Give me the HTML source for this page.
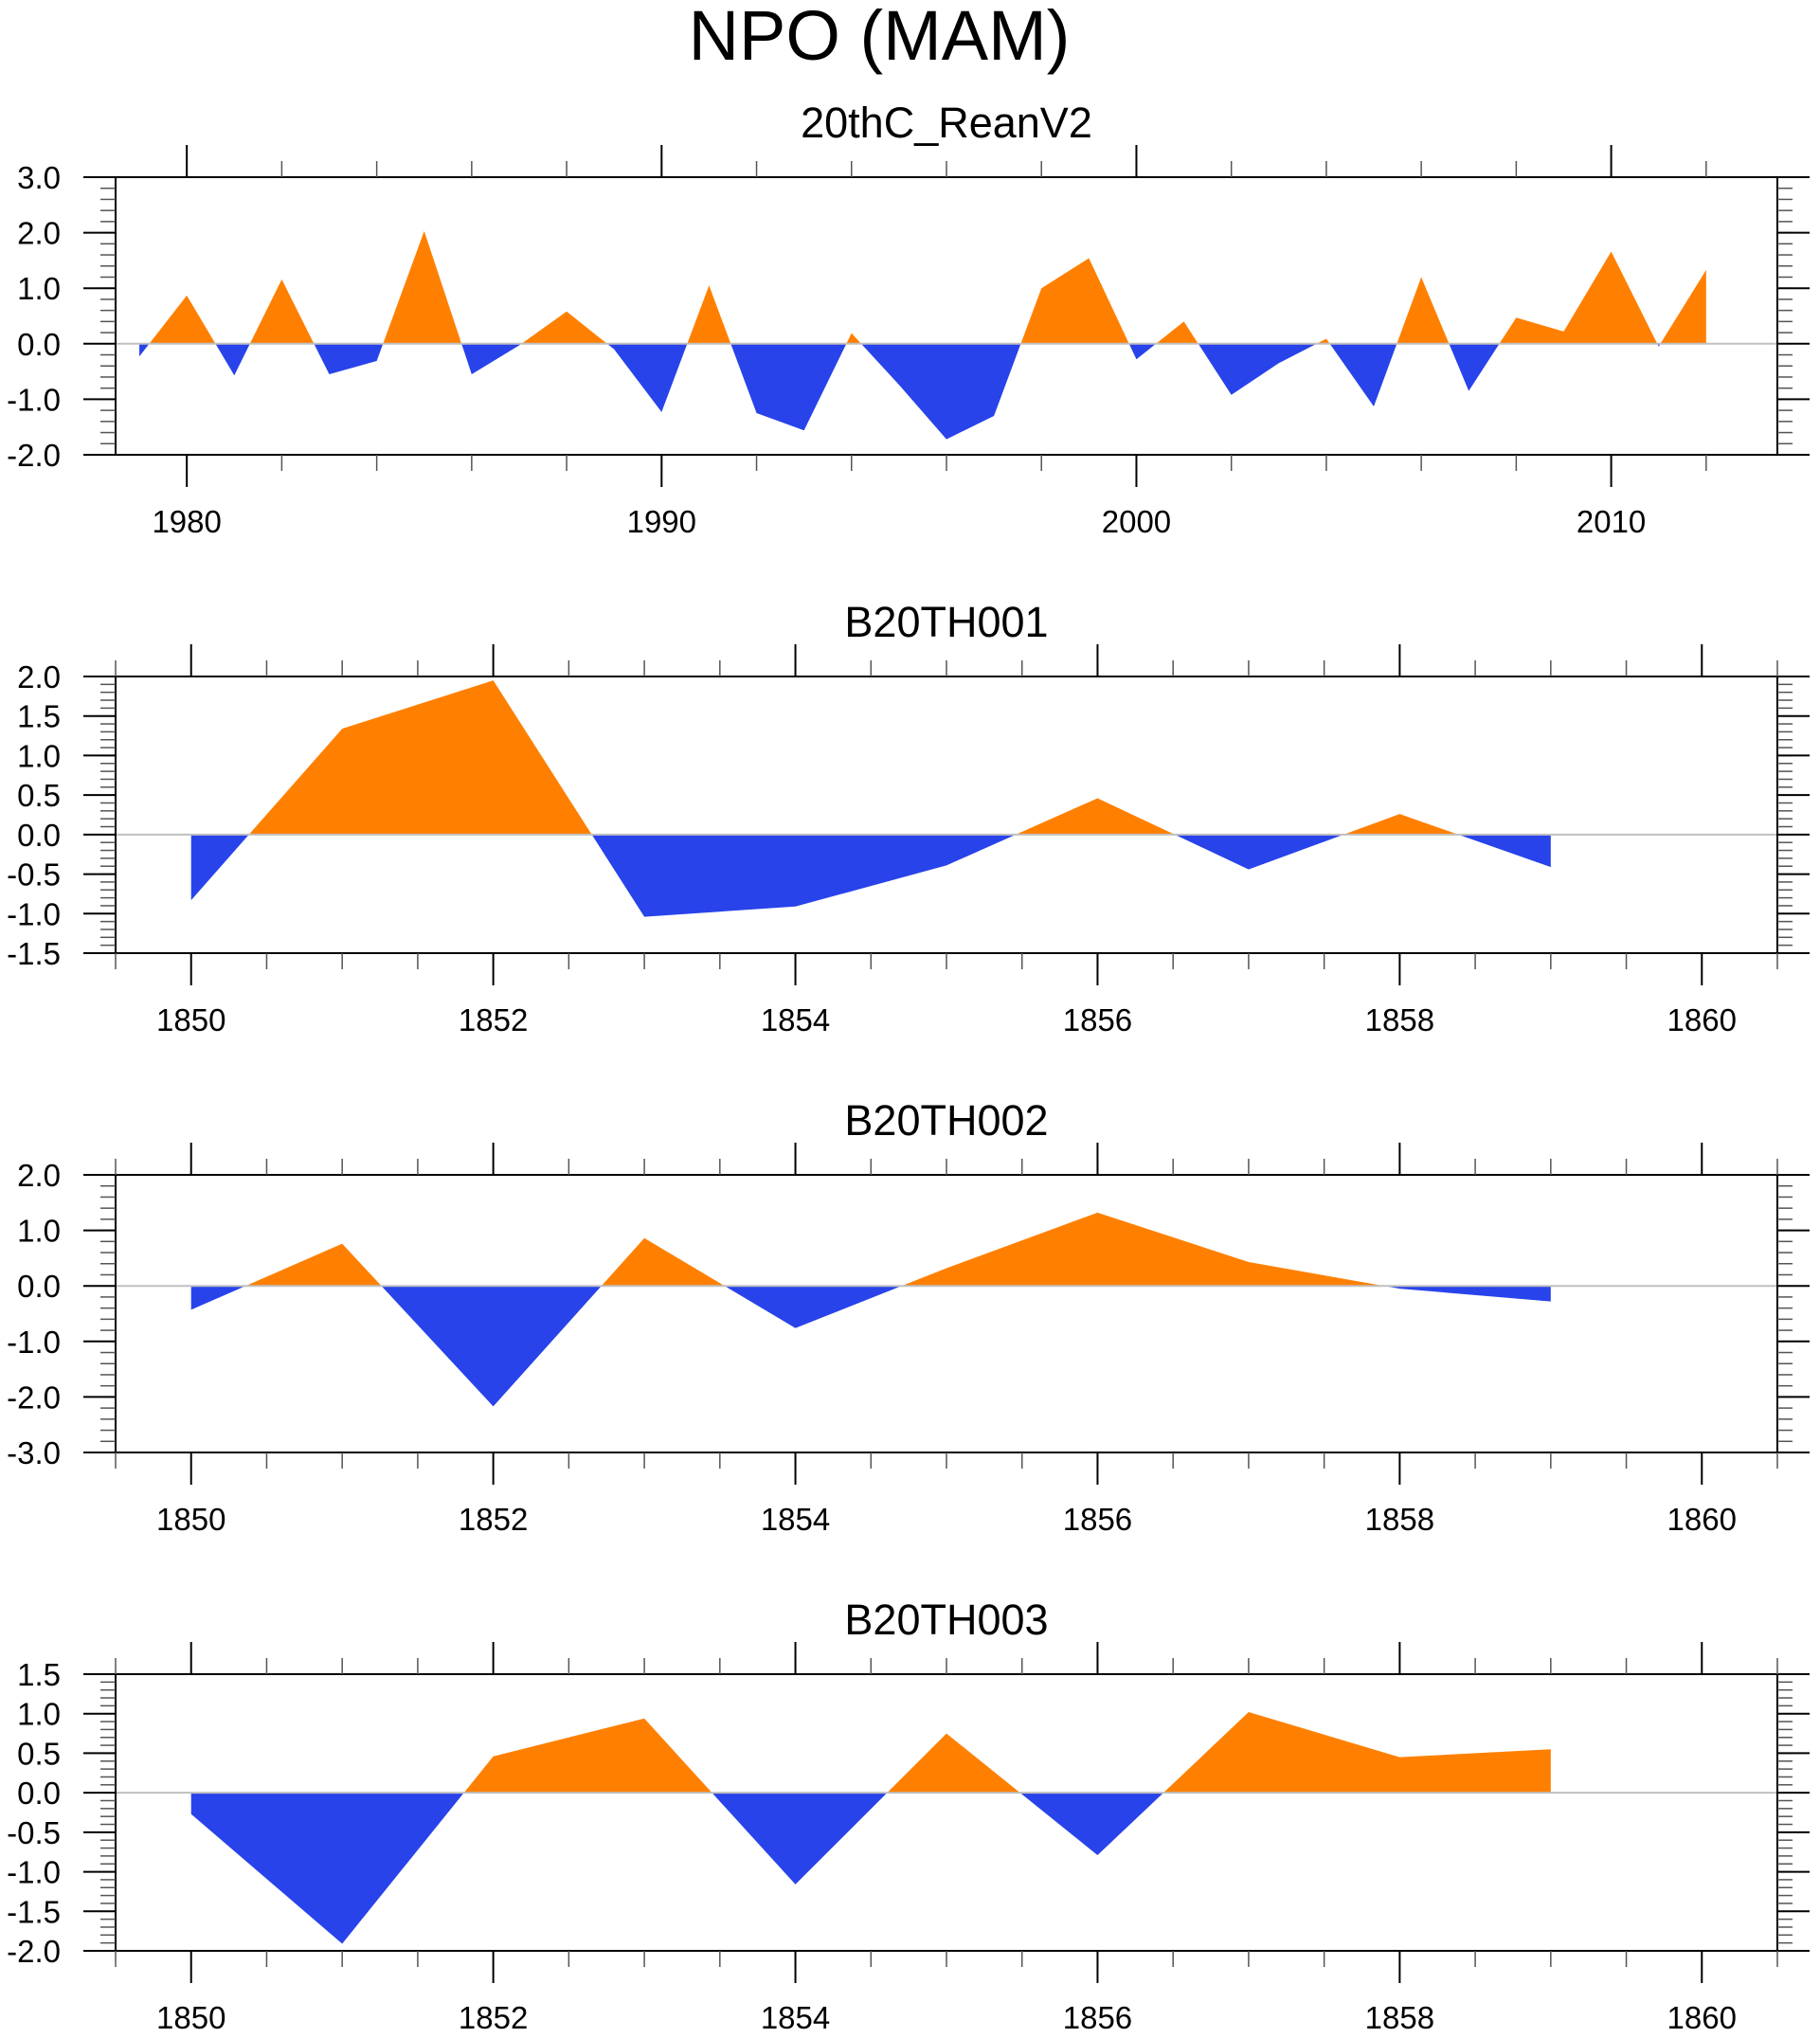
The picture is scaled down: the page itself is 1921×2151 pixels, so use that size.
<!DOCTYPE html>
<html>
<head>
<meta charset="utf-8">
<style>
html,body{margin:0;padding:0;background:#fff;}
svg{display:block;}
text{font-family:"Liberation Sans",Arial,sans-serif;fill:#000;}
</style>
</head>
<body>
<svg id="chart" width="1921" height="2151" viewBox="0 0 1921 2151" xmlns="http://www.w3.org/2000/svg">
<text x="928" y="63" font-size="74" text-anchor="middle">NPO (MAM)</text>
</svg>
<script>
// ---- data ----
const years1 = [1979,1980,1981,1982,1983,1984,1985,1986,1987,1988,1989,1990,1991,1992,1993,1994,1995,1996,1997,1998,1999,2000,2001,2002,2003,2004,2005,2006,2007,2008,2009,2010,2011,2012];
const reanValues = [-0.23,0.87,-0.57,1.16,-0.55,-0.31,2.03,-0.55,-0.03,0.58,-0.1,-1.23,1.05,-1.25,-1.56,0.19,-0.74,-1.72,-1.3,1.0,1.54,-0.28,0.4,-0.92,-0.35,0.09,-1.13,1.2,-0.85,0.47,0.22,1.66,-0.05,1.33];
const years2 = [1850,1851,1852,1853,1854,1855,1856,1857,1858,1859];
const b001Values = [-0.83,1.34,1.95,-1.04,-0.91,-0.39,0.46,-0.44,0.26,-0.41];
const b002Values = [-0.43,0.76,-2.17,0.86,-0.76,0.32,1.32,0.43,-0.05,-0.28];
const b003Values = [-0.27,-1.91,0.46,0.94,-1.16,0.75,-0.79,1.02,0.45,0.55];
const reanYTicks = [3.0,2.0,1.0,0.0,-1.0,-2.0];
const b001YTicks = [2.0,1.5,1.0,0.5,0.0,-0.5,-1.0,-1.5];
const b002YTicks = [2.0,1.0,0.0,-1.0,-2.0,-3.0];
const b003YTicks = [1.5,1.0,0.5,0.0,-0.5,-1.0,-1.5,-2.0];
const reanXTicks = [1980,1990,2000,2010];
const b20XTicks = [1850,1852,1854,1856,1858,1860];

const NS = "http://www.w3.org/2000/svg";
const svg = document.getElementById('chart');
function mk(tag, attrs, parent){
  const e = document.createElementNS(NS, tag);
  for (const k in attrs) e.setAttribute(k, attrs[k]);
  (parent||svg).appendChild(e);
  return e;
}

const panels = [
  {name:'20thC_ReanV2', slug:'reanv2', top:187, bottom:480, ymin:-2, ymax:3, yminor:0.2, ydec:1,
   xs:years1, vals:reanValues, xmin:1978.5, xmax:2013.5, xticks:reanXTicks, xminor:2, yticks:reanYTicks},
  {name:'B20TH001', slug:'b20th001', top:714, bottom:1006, ymin:-1.5, ymax:2, yminor:0.1, ydec:1,
   xs:years2, vals:b001Values, xmin:1849.5, xmax:1860.5, xticks:b20XTicks, xminor:0.5, yticks:b001YTicks},
  {name:'B20TH002', slug:'b20th002', top:1240, bottom:1533, ymin:-3, ymax:2, yminor:0.2, ydec:1,
   xs:years2, vals:b002Values, xmin:1849.5, xmax:1860.5, xticks:b20XTicks, xminor:0.5, yticks:b002YTicks},
  {name:'B20TH003', slug:'b20th003', top:1767, bottom:2059, ymin:-2, ymax:1.5, yminor:0.1, ydec:1,
   xs:years2, vals:b003Values, xmin:1849.5, xmax:1860.5, xticks:b20XTicks, xminor:0.5, yticks:b003YTicks}
];

const L = 122, R = 1876;
panels.forEach((p, pi) => {
  const g = mk('g', {});
  
  
  const xS = v => L + (v - p.xmin) / (p.xmax - p.xmin) * (R - L);
  const yS = v => p.bottom - (v - p.ymin) / (p.ymax - p.ymin) * (p.bottom - p.top);

  const t = mk('text', {x:(L+R)/2, y:p.top-42, 'font-size':45, 'text-anchor':'middle'}, g);
  
  
  t.textContent = p.name;

  const defs = mk('defs', {}, g);
  const y0 = yS(0);
  const cpA = mk('clipPath', {id:'ca'+pi}, defs);
  mk('rect', {x:L, y:p.top, width:R-L, height:y0-p.top}, cpA);
  const cpB = mk('clipPath', {id:'cb'+pi}, defs);
  mk('rect', {x:L, y:y0, width:R-L, height:p.bottom-y0}, cpB);

  let d = 'M' + xS(p.xs[0]) + ',' + y0;
  p.xs.forEach((x, i) => { d += ' L' + xS(x) + ',' + yS(p.vals[i]); });
  d += ' L' + xS(p.xs[p.xs.length-1]) + ',' + y0 + ' Z';
  const pos = mk('path', {d:d, fill:'#ff8000', 'clip-path':'url(#ca'+pi+')'}, g);
  
  
  const neg = mk('path', {d:d, fill:'#2843ea', 'clip-path':'url(#cb'+pi+')'}, g);
  
  

  const zl = mk('line', {x1:L, x2:R, y1:y0, y2:y0, stroke:'#c0c0c0', 'stroke-width':2}, g);
  
  

  const fr = mk('rect', {x:L, y:p.top, width:R-L, height:p.bottom-p.top, fill:'none', stroke:'#000', 'stroke-width':2}, g);
  
  

  const nMinor = Math.round((p.ymax - p.ymin) / p.yminor);
  for (let i = 0; i <= nMinor; i++) {
    const v = p.ymin + i * p.yminor;
    const y = yS(v);
    mk('line', {x1:L-16, x2:L, y1:y, y2:y, stroke:'#555', 'stroke-width':1.5}, g);
    mk('line', {x1:R, x2:R+16, y1:y, y2:y, stroke:'#555', 'stroke-width':1.5}, g);
  }
  p.yticks.forEach(v => {
    const y = yS(v);
    mk('line', {x1:L-34, x2:L, y1:y, y2:y, stroke:'#000', 'stroke-width':2}, g);
    mk('line', {x1:R, x2:R+34, y1:y, y2:y, stroke:'#000', 'stroke-width':2}, g);
    const lt = mk('text', {x:64, y:y+12, 'font-size':33, 'text-anchor':'end'}, g);
    
    
    lt.textContent = v.toFixed(p.ydec);
  });

  const start = Math.ceil(p.xmin / p.xminor) * p.xminor;
  for (let v = start; v <= p.xmax + 1e-9; v += p.xminor) {
    const x = xS(v);
    mk('line', {x1:x, x2:x, y1:p.top-17, y2:p.top, stroke:'#555', 'stroke-width':1.5}, g);
    mk('line', {x1:x, x2:x, y1:p.bottom, y2:p.bottom+17, stroke:'#555', 'stroke-width':1.5}, g);
  }
  p.xticks.forEach(v => {
    const x = xS(v);
    mk('line', {x1:x, x2:x, y1:p.top-34, y2:p.top, stroke:'#000', 'stroke-width':2}, g);
    mk('line', {x1:x, x2:x, y1:p.bottom, y2:p.bottom+34, stroke:'#000', 'stroke-width':2}, g);
    const xt = mk('text', {x:x, y:p.bottom+82, 'font-size':33, 'text-anchor':'middle'}, g);
    
    
    xt.textContent = String(v);
  });
});
</script>
</body>
</html>
